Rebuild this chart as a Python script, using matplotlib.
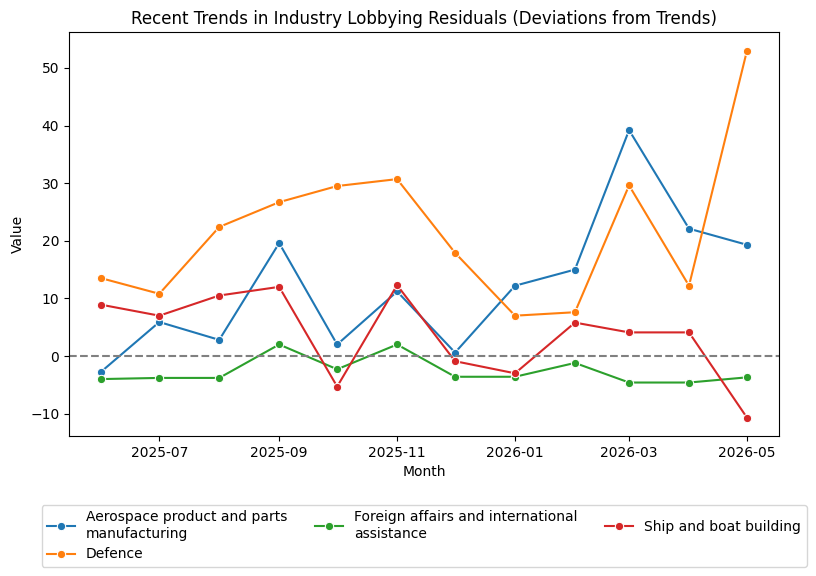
import matplotlib
matplotlib.use("Agg")
import matplotlib.pyplot as plt
import matplotlib.dates as mdates
import pandas as pd

months = pd.date_range("2025-06-01", "2026-05-01", freq="MS")
aerospace = [-2.7, 5.9, 2.8, 19.6, 2.0, 11.2, 0.6, 12.2, 15.0, 39.2, 22.1, 19.3]
defence = [13.5, 10.8, 22.4, 26.7, 29.5, 30.7, 17.9, 7.0, 7.6, 29.6, 12.2, 53.0]
foreign = [-4.0, -3.8, -3.8, 2.0, -2.3, 2.0, -3.6, -3.6, -1.2, -4.6, -4.6, -3.7]
ship = [8.9, 7.0, 10.5, 12.0, -5.3, 12.3, -0.9, -3.0, 5.8, 4.1, 4.1, -10.7]

labels = ["Aerospace product and parts\nmanufacturing", "Defence",
          "Foreign affairs and international\nassistance", "Ship and boat building"]
series = [aerospace, defence, foreign, ship]
colors = ["#1f77b4", "#ff7f0e", "#2ca02c", "#d62728"]

fig = plt.figure(figsize=(8.16, 5.76), dpi=100)
ax = fig.add_axes([0.0846, 0.243, 0.8704, 0.701])
for vals, lab, c in zip(series, labels, colors):
    ax.plot(months, vals, marker="o", color=c, label=lab, linewidth=1.5,
            markersize=6, markeredgecolor="white", markeredgewidth=0.75)
ax.axhline(0, color="gray", linestyle="--", linewidth=1.5)
ax.set_title("Recent Trends in Industry Lobbying Residuals (Deviations from Trends)")
ax.set_xlabel("Month")
ax.set_ylabel("Value")
ax.xaxis.set_major_locator(mdates.MonthLocator(bymonth=[1, 3, 5, 7, 9, 11]))
ax.xaxis.set_major_formatter(mdates.DateFormatter("%Y-%m"))
ax.legend(loc="upper center", bbox_to_anchor=(0.5, -0.153), ncol=3)
fig.savefig("out.png", dpi=100)
